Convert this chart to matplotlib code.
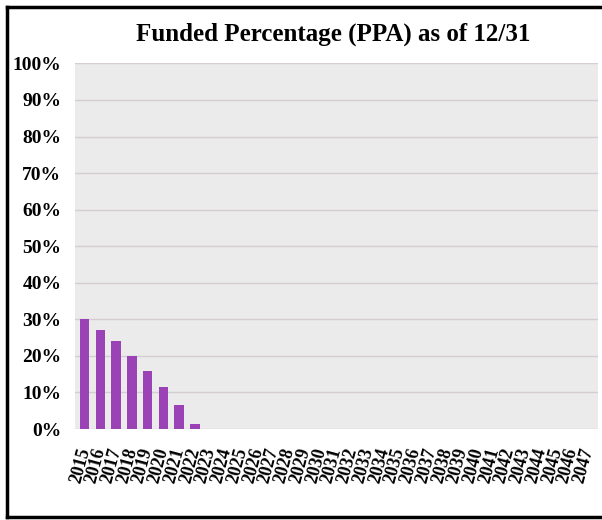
import matplotlib
matplotlib.use("Agg")
import matplotlib.pyplot as plt
from matplotlib.lines import Line2D

years = [str(y) for y in range(2015, 2048)]
funded_pct = [30.0, 27.0, 24.0, 20.0, 16.0, 11.5, 6.6, 1.4] + [0.0] * 25
yticks = [0, 10, 20, 30, 40, 50, 60, 70, 80, 90, 100]
ytick_labels = [f"{v}%" for v in yticks]
title = "Funded Percentage (PPA) as of 12/31"

plt.rcParams['font.family'] = ['Liberation Serif', 'DejaVu Serif']

fig = plt.figure(figsize=(6.02, 5.20), dpi=100)
ax = fig.add_axes([0.125, 0.175, 0.868, 0.703])
ax.set_facecolor('#ebebeb')

x = list(range(len(years)))
ax.bar(x, funded_pct, width=0.6, color='#9a42b6', zorder=3)

ax.set_ylim(0, 100)
ax.set_xlim(-0.6, len(years) - 0.4)
ax.set_yticks(yticks)
ax.set_yticklabels(ytick_labels, fontsize=14, fontweight='bold')
ax.set_xticks(x)
ax.set_xticklabels(years, fontsize=13, fontweight='bold', rotation=75,
                   ha='right', va='center', rotation_mode='anchor')
ax.tick_params(axis='y', length=0, pad=10)
ax.tick_params(axis='x', length=0, pad=14)
ax.grid(axis='y', color='#d6cdd3', linewidth=1.0, zorder=0)
for s in ax.spines.values():
    s.set_visible(False)

fig.text(0.553, 0.935, title, ha='center', va='center', fontsize=18,
         fontweight='bold')

lw = 2.5
fig.add_artist(Line2D([0.011, 0.011], [0.006, 0.987], transform=fig.transFigure,
                      color='black', linewidth=lw))
fig.add_artist(Line2D([0.011, 1.0], [0.987, 0.987], transform=fig.transFigure,
                      color='black', linewidth=lw))
fig.add_artist(Line2D([0.011, 1.0], [0.006, 0.006], transform=fig.transFigure,
                      color='black', linewidth=lw))

fig.savefig('out.png', dpi=100)
